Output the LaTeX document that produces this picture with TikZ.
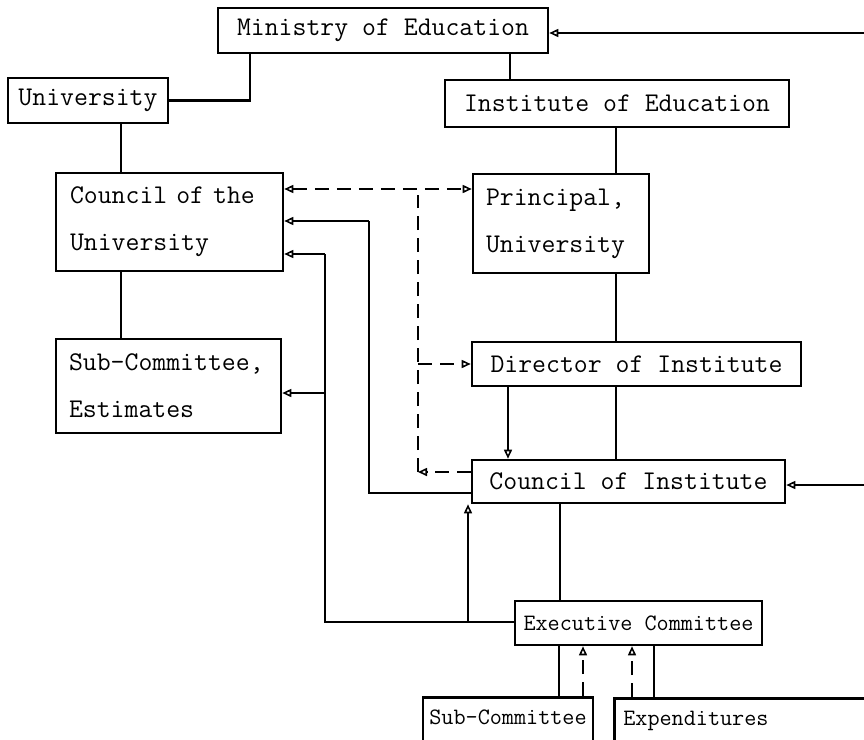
\documentclass[tikz,border=0pt]{standalone}
\usepackage{fontspec}
\usetikzlibrary{arrows.meta}
\newcommand\twbig{\ttfamily\fontsize{27}{47}\selectfont}
\newcommand\twsmall{\ttfamily\fontsize{23.5}{40}\selectfont}
\tikzset{
  box/.style={draw, line width=2.6pt, inner sep=0pt, font=\twbig, align=center},
  mbox/.style={box, align=left, inner xsep=14pt, inner ysep=0pt},
  sbox/.style={draw, line width=2.6pt, inner sep=0pt, font=\twsmall, align=center},
  ln/.style={line width=2.3pt},
  arr/.style={ln, -{Triangle[open,length=9pt,width=8pt,line width=1.6pt]}},
  arrb/.style={ln, {Triangle[open,length=9pt,width=8pt,line width=1.6pt]}-{Triangle[open,length=9pt,width=8pt,line width=1.6pt]}},
  dsh/.style={dash pattern=on 14pt off 8pt},
}
\begin{document}
\begin{tikzpicture}[x=1pt,y=-1pt]
\clip (0,0) rectangle (864,739);
\fill[white] (0,0) rectangle (864,739);
% boxes
\node[box, minimum width=330pt, minimum height=45pt] (min) at (383,30.5) {Ministry of Education};
\node[box, minimum width=160pt, minimum height=45pt] (uni) at (88,100.5) {University};
\node[box, minimum width=344pt, minimum height=47pt] (ioe) at (617,103.5) {Institute of Education};
\node[mbox, text width=199pt, minimum height=98pt] (cou) at (169.5,222) {Council of the\\University};
\node[mbox, text width=150pt, minimum height=99pt, inner xsep=13pt] (pri) at (561,223.5) {Principal,\\University};
\node[mbox, text width=199pt, minimum height=94pt, inner xsep=13pt] (sce) at (168.5,386) {Sub-Committee,\\Estimates};
\node[box, minimum width=329pt, minimum height=44pt] (dir) at (636.5,364) {Director of Institute};
\node[box, minimum width=313pt, minimum height=43pt] (coi) at (628.5,481.5) {Council of Institute};
\node[sbox, minimum width=247pt, minimum height=44pt] (exe) at (638.5,623) {Executive Committee};
\node[sbox, anchor=north, minimum width=170pt, inner ysep=8pt, text height=19pt, text depth=32pt] (sub) at (508,696) {Sub-Committee};
\node[sbox, anchor=north west, text width=250pt, align=left, inner xsep=9pt, inner ysep=8pt, text height=19pt, text depth=32pt] (exp) at (613,697) {Expenditures};
% helper coordinates
\coordinate (r1) at (864,33);
\coordinate (r2) at (864,485);
\coordinate (k1) at (250,0);
\coordinate (k2) at (510,0);
\coordinate (k3) at (121,0);
\coordinate (k4) at (616,0);
\coordinate (k5) at (560,0);
\coordinate (k6) at (508,0);
\coordinate (k7) at (468,0);
\coordinate (d1) at (418,472);
\coordinate (d2) at (418,189);
\coordinate (d3) at (418,364);
\coordinate (s1) at (369,493);
\coordinate (s2) at (369,221);
\coordinate (t1) at (325,622);
\coordinate (t2) at (325,254);
\coordinate (t3) at (325,393);
\coordinate (t4) at (468,622);
\coordinate (b1) at (559,0);
\coordinate (b2) at (583,0);
\coordinate (b3) at (632,0);
\coordinate (b4) at (654,0);
% solid tree lines
\draw[ln] (uni.east) -| (k1 |- min.south);
\draw[ln] (k2 |- min.south) -- (k2 |- ioe.north);
\draw[ln] (k3 |- uni.south) -- (k3 |- cou.north);
\draw[ln] (k3 |- cou.south) -- (k3 |- sce.north);
\draw[ln] (k4 |- ioe.south) -- (k4 |- pri.north);
\draw[ln] (k4 |- pri.south) -- (k4 |- dir.north);
\draw[ln] (k4 |- dir.south) -- (k4 |- coi.north);
\draw[ln] (k5 |- coi.south) -- (k5 |- exe.north);
\draw[ln] (b1 |- exe.south) -- (b1 |- sub.north);
\draw[ln] (b4 |- exe.south) -- (b4 |- exp.north);
% arrows
\draw[arr] (r1) -- (r1 -| min.east);
\draw[arr] (r2) -- (r2 -| coi.east);
\draw[arr] (k6 |- dir.south) -- (k6 |- coi.north);
\draw[ln] (s1 -| coi.west) -- (s1) -- (s2);
\draw[arr] (s2) -- (s2 -| cou.east);
\draw[ln] (t1 -| exe.west) -- (t1) -- (t2);
\draw[arr] (t2) -- (t2 -| cou.east);
\draw[arr] (t3) -- (t3 -| sce.east);
\draw[arr] (t4) -- (k7 |- coi.south);
% dashed
\draw[arr, dsh] (d1 -| coi.west) -- (d1);
\draw[ln, dsh] (d1) -- ([yshift=-6pt]d2);
\draw[arrb, dsh] (d2 -| cou.east) -- (d2 -| pri.west);
\draw[arr, dsh] (d3) -- (d3 -| dir.west);
\draw[arr, dsh] (b2 |- sub.north) -- (b2 |- exe.south);
\draw[arr, dsh] (b3 |- exp.north) -- (b3 |- exe.south);
\end{tikzpicture}
\end{document}
